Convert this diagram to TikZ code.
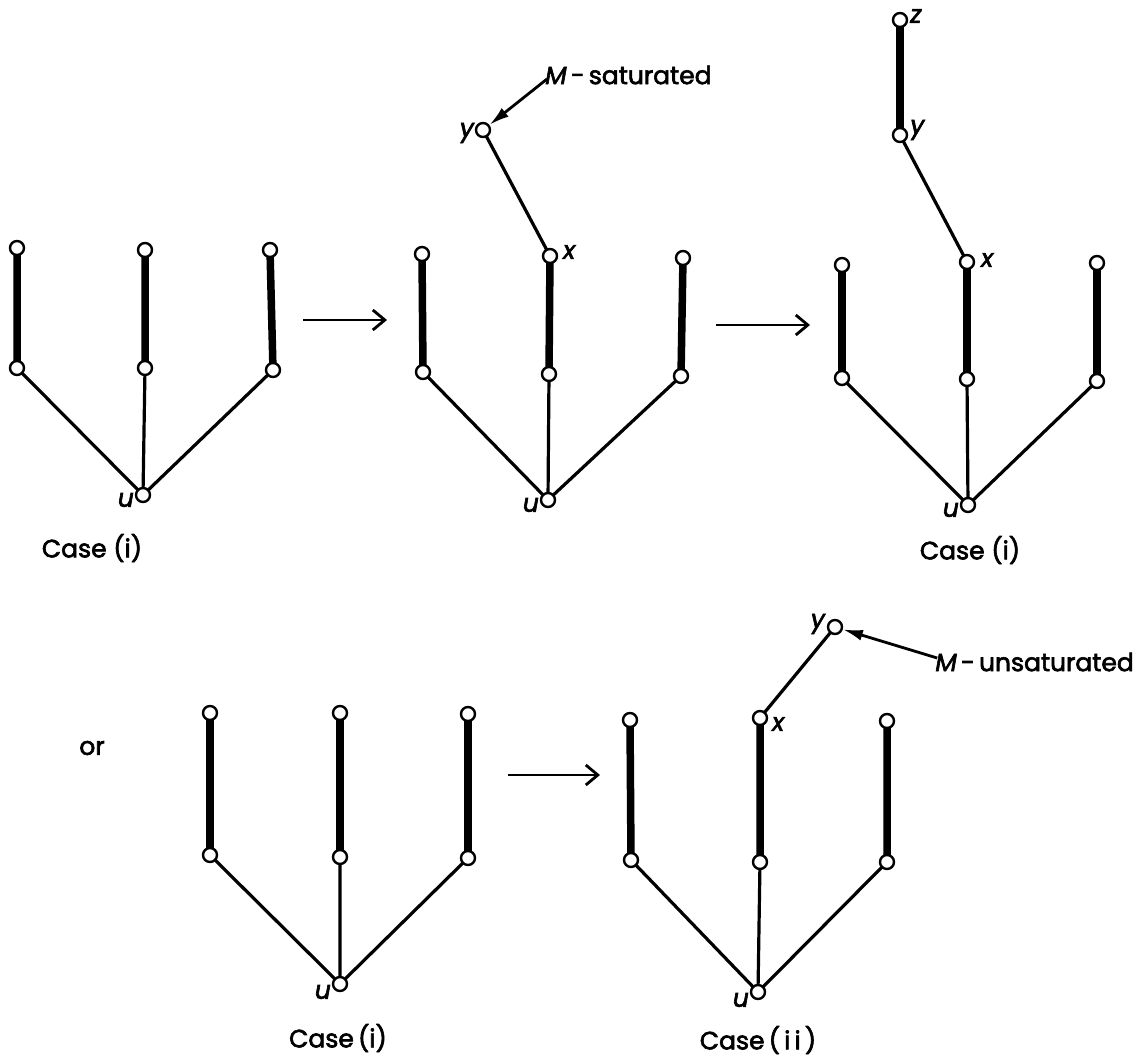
\documentclass[tikz,border=0pt]{standalone}
\usepackage{fontspec}
\setmainfont{Poppins}[FakeBold=2.5,ItalicFeatures={FakeBold=2.5}]
\usetikzlibrary{arrows.meta}
\tikzset{
  v/.style={circle,draw,line width=2.4pt,fill=white,inner sep=0pt,minimum size=14pt},
  thin edge/.style={line width=3.2pt},
  match edge/.style={line width=7.5pt},
  lab/.style={font=\fontsize{25}{27}\selectfont\itshape,inner sep=1pt},
  captext/.style={font=\fontsize{25}{28}\selectfont,inner sep=0pt},
  step arrow/.style={line width=2.8pt,-{Straight Barb[length=12pt,width=20pt,line width=2.8pt]}},
  pointer/.style={line width=2.8pt,-{Latex[length=20pt,width=11pt]}}
}
\begin{document}
\begin{tikzpicture}[x=1pt,y=-1pt]
\useasboundingbox (0,0) rectangle (1138,1062);
% ---- Tree 1
\foreach \n/\x/\y in {a1/17/248,b1/145/250,c1/270/250,a2/17/368,b2/145/368,c2/273/370,r/143/495}
  \coordinate (T1\n) at (\x,\y);
\draw[match edge] (T1a1)--(T1a2) (T1b1)--(T1b2) (T1c1)--(T1c2);
\draw[thin edge] (T1a2)--(T1r) (T1b2)--(T1r) (T1c2)--(T1r);
\foreach \n in {a1,b1,c1,a2,b2,c2,r} \node[v] at (T1\n) {};
\node[lab,anchor=east] (T1u) at (135,500) {u};
\node[captext] (cap1) at (92,548) {Case (i)};
% ---- arrow 1
\coordinate (A1s) at (303,320); \coordinate (A1e) at (387,320);
\draw[step arrow] (A1s)--(A1e);
% ---- Tree 2
\foreach \n/\x/\y in {a1/422/254,b1/550/256,c1/683/258,a2/423/372,b2/549/374,c2/681/376,r/548/500,y/483/130}
  \coordinate (T2\n) at (\x,\y);
\draw[match edge] (T2a1)--(T2a2) (T2b1)--(T2b2) (T2c1)--(T2c2);
\draw[thin edge] (T2a2)--(T2r) (T2b2)--(T2r) (T2c2)--(T2r) (T2b1)--(T2y);
\foreach \n in {a1,b1,c1,a2,b2,c2,r,y} \node[v] (N2\n) at (T2\n) {};
\node[lab,anchor=east] at (540,505) {u};
\node[lab,anchor=west] at (562,252) {x};
\node[lab,anchor=east] at (475,133) {y};
\node[captext,anchor=west] (sat) at (545,75) {\textit{M}\,-\,saturated};
\draw[pointer] (sat.west) ++(2,4) coordinate (satp) (satp) -- (N2y);
% ---- arrow 2
\coordinate (A2s) at (716,325); \coordinate (A2e) at (810,325);
\draw[step arrow] (A2s)--(A2e);
% ---- Tree 3
\foreach \n/\x/\y in {a1/842/265,b1/967/262,c1/1097/263,a2/842/378,b2/967/379,c2/1097/381,r/968/505,y/900/135,z/900/20}
  \coordinate (T3\n) at (\x,\y);
\draw[match edge] (T3a1)--(T3a2) (T3b1)--(T3b2) (T3c1)--(T3c2) (T3y)--(T3z);
\draw[thin edge] (T3a2)--(T3r) (T3b2)--(T3r) (T3c2)--(T3r) (T3b1)--(T3y);
\foreach \n in {a1,b1,c1,a2,b2,c2,r,y,z} \node[v] at (T3\n) {};
\node[lab,anchor=east] at (960,510) {u};
\node[lab,anchor=west] at (980,260) {x};
\node[lab,anchor=west] at (909,130) {y};
\node[lab,anchor=west] at (909,16) {z};
\node[captext] (cap3) at (970,550) {Case (i)};
% ---- or
\node[captext] (or) at (92,748) {or};
% ---- Tree 4
\foreach \n/\x/\y in {a1/210/713,b1/340/713,c1/468/714,a2/210/855,b2/340/857,c2/468/858,r/340/984}
  \coordinate (T4\n) at (\x,\y);
\draw[match edge] (T4a1)--(T4a2) (T4b1)--(T4b2) (T4c1)--(T4c2);
\draw[thin edge] (T4a2)--(T4r) (T4b2)--(T4r) (T4c2)--(T4r);
\foreach \n in {a1,b1,c1,a2,b2,c2,r} \node[v] at (T4\n) {};
\node[lab,anchor=east] at (332,992) {u};
\node[captext] (cap4) at (338,1038) {Case\,(i)};
% ---- arrow 3
\coordinate (A3s) at (508,775); \coordinate (A3e) at (600,775);
\draw[step arrow] (A3s)--(A3e);
% ---- Tree 5
\foreach \n/\x/\y in {a1/630/720,b1/760/718,c1/887/721,a2/631/860,b2/760/862,c2/887/862,r/758/992,y/835/627}
  \coordinate (T5\n) at (\x,\y);
\draw[match edge] (T5a1)--(T5a2) (T5b1)--(T5b2) (T5c1)--(T5c2);
\draw[thin edge] (T5a2)--(T5r) (T5b2)--(T5r) (T5c2)--(T5r) (T5b1)--(T5y);
\foreach \n in {a1,b1,c1,a2,b2,c2,r,y} \node[v] (N5\n) at (T5\n) {};
\node[lab,anchor=east] at (750,1000) {u};
\node[lab,anchor=west] at (771,724) {x};
\node[lab,anchor=east] at (826,624) {y};
\node[captext,anchor=east] (unsat) at (1134,662) {\textit{M}\,-\,unsaturated};
\draw[pointer] (unsat.west) ++(2,-4) coordinate (unsatp) (unsatp) -- (N5y);
\node[captext] (cap5) at (758,1040) {Case\,(\,i\,i\,)};
\end{tikzpicture}
\end{document}
